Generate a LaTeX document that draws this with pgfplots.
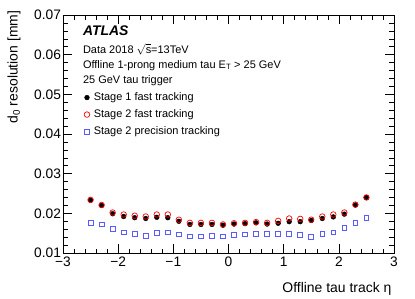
\documentclass[border=0pt]{standalone}
\usepackage{pgfplots}
\pgfplotsset{compat=1.18}
\usepackage{fontspec}
\setmainfont{Liberation Sans}
\definecolor{sqblue}{RGB}{90,90,255}
\definecolor{cred}{RGB}{255,0,0}

\pgfplotstableread{
x s1 s2 p2
-2.5 0.0233 0.0234 0.0177
-2.3 0.0220 0.0221 0.0172
-2.1 0.0199 0.0202 0.0161
-1.9 0.0192 0.0197 0.0152
-1.7 0.0189 0.0194 0.0149
-1.5 0.0187 0.0192 0.0144
-1.3 0.0190 0.0197 0.0151
-1.1 0.0189 0.0197 0.0152
-0.9 0.0180 0.0184 0.0147
-0.7 0.0172 0.0176 0.0142
-0.5 0.0172 0.0176 0.0142
-0.3 0.0172 0.0176 0.0144
-0.1 0.0170 0.0172 0.0142
0.1 0.0173 0.0175 0.0145
0.3 0.0174 0.0176 0.0147
0.5 0.0176 0.0178 0.0148
0.7 0.0173 0.0176 0.0148
0.9 0.0175 0.0181 0.0148
1.1 0.0179 0.0187 0.0148
1.3 0.0179 0.0186 0.0145
1.5 0.0182 0.0184 0.0140
1.7 0.0187 0.0192 0.0148
1.9 0.0191 0.0197 0.0152
2.1 0.0198 0.0202 0.0163
2.3 0.0221 0.0222 0.0176
2.5 0.0240 0.0240 0.0188
}\datatable

\begin{document}
\begin{tikzpicture}
\begin{axis}[
  at={(0bp,0bp)}, anchor=south west,
  scale only axis, width=331bp, height=238bp,
  xmin=-3, xmax=3, ymin=0.01, ymax=0.07,
  xtick={-3,-2,-1,0,1,2,3},
  xticklabels={−3,−2,−1,0,1,2,3},
  ytick={0.01,0.02,0.03,0.04,0.05,0.06,0.07},
  yticklabels={0.01,0.02,0.03,0.04,0.05,0.06,0.07},
  scaled y ticks=false,
  minor x tick num=4, minor y tick num=4,
  tick align=inside, xtick pos=both, ytick pos=both,
  major tick length=9bp, minor tick length=4.5bp,
  every tick/.style={black, line width=0.5bp},
  axis line style={line width=0.7bp},
  tick label style={font=\fontsize{13.8}{15}\selectfont},
  xticklabel style={yshift=-0.5bp},
  yticklabel style={xshift=1.5bp},
  xlabel={Offline tau track η},
  ylabel={d$_{\mathrm{0}}$ resolution [mm]},
  xlabel style={font=\fontsize{14}{16}\selectfont, at={(axis description cs:1.003,-0.151)}, anchor=east},
  ylabel style={font=\fontsize{14}{16}\selectfont, at={(axis description cs:-0.148,1.033)}, anchor=east},
  legend style={draw=none, fill=none, inner sep=0pt, at={(axis description cs:0.0634,0.676)}, anchor=north west,
    font=\fontsize{11}{13}\selectfont, row sep=6.5bp, column sep=4bp,
    nodes={inner sep=0pt, text height=8bp, text depth=2.5bp}},
  legend cell align=left,
  legend image code/.code={\draw[mark repeat=2,mark phase=2,#1] plot coordinates {(0bp,0bp)(4bp,0bp)(8bp,0bp)};},
  clip=false,
]
\addplot[only marks, mark=*, mark size=2.4bp, black, mark options={fill=black, line width=0.4bp}] table[x=x,y=s1] {\datatable};
\addlegendentry{Stage 1 fast tracking}
\addplot[only marks, mark=o, mark size=2.8bp, cred, mark options={line width=0.7bp}] table[x=x,y=s2] {\datatable};
\addlegendentry{Stage 2 fast tracking}
\addplot[only marks, mark=square, mark size=2.4bp, sqblue, mark options={line width=0.7bp}] table[x=x,y=p2] {\datatable};
\addlegendentry{Stage 2 precision tracking}

\node[anchor=base west, font=\fontsize{14}{16}\selectfont\bfseries\itshape, inner sep=0pt] at (axis description cs:0.060,0.912) {ATLAS};
\node[anchor=base west, font=\fontsize{11}{13}\selectfont, inner sep=0pt] at (axis description cs:0.060,0.840) {Data 2018 $\sqrt{\mbox{s}}$=13TeV};
\node[anchor=base west, font=\fontsize{11}{13}\selectfont, inner sep=0pt] at (axis description cs:0.060,0.777) {Offline 1-prong medium tau E$_{\mathrm{T}}$ > 25 GeV};
\node[anchor=base west, font=\fontsize{11}{13}\selectfont, inner sep=0pt] at (axis description cs:0.060,0.714) {25 GeV tau trigger};
\end{axis}
\useasboundingbox (-63bp,-45bp) rectangle (352bp,253bp);
\end{tikzpicture}
\end{document}
